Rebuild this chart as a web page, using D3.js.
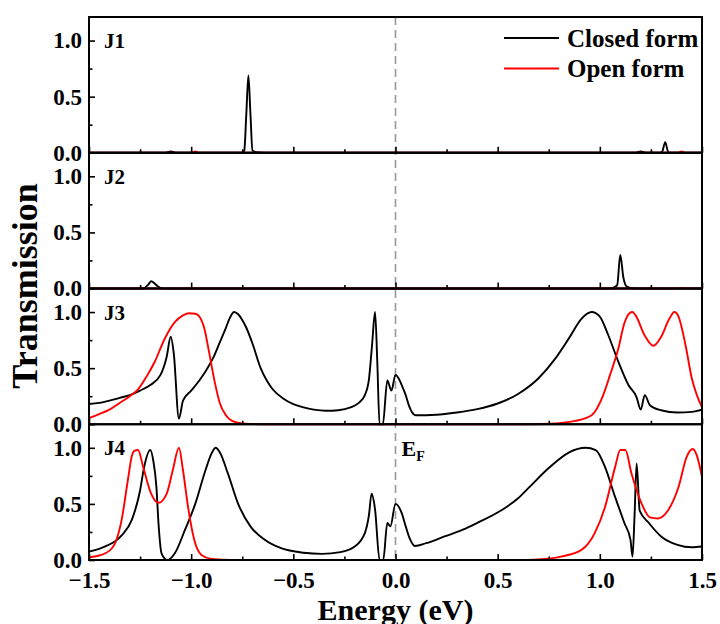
<!DOCTYPE html>
<html>
<head>
<meta charset="utf-8">
<script src="https://cdn.jsdelivr.net/npm/d3@7"></script>
<style>
  html, body { margin: 0; padding: 0; background: #fff; }
  svg text { font-family: "Liberation Serif", "Times New Roman", serif; font-weight: bold; fill: #000; }
</style>
</head>
<body>
<svg id="chart" width="720" height="624"></svg>
<script>
// Transmission spectra T(E) for junctions J1–J4, closed and open forms.
// Each series is a list of [energy (eV), transmission] samples.
const panelNames = ["J1", "J2", "J3", "J4"];
const seriesNames = ["Closed form", "Open form"];
const seriesColors = ["#000000", "#ff0000"];

const j1Closed = [[-1.5,0],[-1.13,0],[-1.10,0.012],[-1.07,0],[-0.76,0],[-0.745,0.005],[-0.74,0.02],[-0.73,0.35],[-0.72,0.69],[-0.71,0.35],[-0.70,0.02],[-0.68,0.005],[-0.6,0],[1.17,0],[1.20,0.012],[1.23,0],[1.295,0],[1.305,0.01],[1.32,0.095],[1.335,0.005],[1.36,0],[1.5,0]];
const j1Open = [[-1.5,0],[-1.0,0],[-0.98,0.012],[-0.96,0],[1.38,0],[1.40,0.012],[1.42,0],[1.5,0]];

const j2Closed = [[-1.5,0],[-1.235,0],[-1.21,0.035],[-1.195,0.065],[-1.17,0.03],[-1.15,0.005],[-1.12,0],[1.04,0],[1.07,0.01],[1.085,0.03],[1.10,0.30],[1.115,0.10],[1.13,0.02],[1.16,0.003],[1.2,0],[1.5,0]];
const j2Open = [[-1.5,0],[1.38,0],[1.40,0.006],[1.42,0],[1.5,0]];

const j3Closed = [[-1.50,0.18],[-1.45,0.19],[-1.40,0.21],[-1.35,0.235],[-1.30,0.26],[-1.25,0.30],[-1.20,0.35],[-1.15,0.44],[-1.12,0.60],[-1.10,0.78],[-1.085,0.63],[-1.06,0.05],[-1.04,0.21],[-1.00,0.30],[-0.96,0.39],[-0.93,0.47],[-0.89,0.60],[-0.86,0.73],[-0.83,0.86],[-0.81,0.95],[-0.79,1.0],[-0.77,0.98],[-0.75,0.93],[-0.73,0.86],[-0.70,0.72],[-0.66,0.50],[-0.63,0.39],[-0.60,0.31],[-0.55,0.23],[-0.50,0.18],[-0.45,0.15],[-0.40,0.13],[-0.34,0.12],[-0.28,0.125],[-0.22,0.15],[-0.18,0.19],[-0.15,0.26],[-0.13,0.40],[-0.115,0.70],[-0.10,1.0],[-0.089,0.55],[-0.078,0],[-0.062,0],[-0.04,0.39],[-0.02,0.30],[0.0,0.44],[0.015,0.41],[0.03,0.35],[0.05,0.26],[0.065,0.17],[0.08,0.11],[0.10,0.08],[0.20,0.085],[0.30,0.105],[0.40,0.135],[0.50,0.185],[0.60,0.27],[0.70,0.41],[0.78,0.58],[0.85,0.77],[0.91,0.94],[0.96,1.0],[1.00,0.96],[1.04,0.80],[1.09,0.56],[1.14,0.35],[1.18,0.24],[1.20,0.13],[1.22,0.26],[1.245,0.17],[1.30,0.125],[1.38,0.105],[1.45,0.11],[1.50,0.13]];
const j3Open = [[-1.50,0.055],[-1.45,0.09],[-1.40,0.13],[-1.35,0.19],[-1.30,0.25],[-1.26,0.31],[-1.22,0.42],[-1.18,0.55],[-1.13,0.76],[-1.08,0.91],[-1.04,0.97],[-1.01,0.99],[-0.98,0.985],[-0.96,0.96],[-0.935,0.85],[-0.91,0.62],[-0.885,0.38],[-0.86,0.19],[-0.83,0.08],[-0.80,0.03],[-0.75,0.008],[-0.65,0],[0.6,0],[0.75,0.005],[0.88,0.03],[0.96,0.08],[1.01,0.23],[1.05,0.44],[1.09,0.67],[1.12,0.90],[1.145,0.99],[1.16,1.0],[1.175,0.97],[1.22,0.79],[1.262,0.70],[1.30,0.78],[1.34,0.94],[1.365,1.0],[1.385,0.96],[1.42,0.70],[1.45,0.41],[1.475,0.26],[1.50,0.15]];

const j4Closed = [[-1.50,0.074],[-1.45,0.10],[-1.41,0.13],[-1.37,0.17],[-1.34,0.22],[-1.29,0.36],[-1.25,0.62],[-1.23,0.83],[-1.20,0.98],[-1.185,0.88],[-1.17,0.65],[-1.16,0.33],[-1.145,0.06],[-1.117,0],[-1.08,0.06],[-1.03,0.27],[-0.98,0.50],[-0.93,0.80],[-0.90,0.95],[-0.88,1.0],[-0.86,0.96],[-0.82,0.77],[-0.77,0.50],[-0.71,0.30],[-0.64,0.18],[-0.56,0.105],[-0.45,0.065],[-0.36,0.055],[-0.27,0.07],[-0.20,0.12],[-0.15,0.24],[-0.13,0.40],[-0.117,0.59],[-0.10,0.45],[-0.078,0],[-0.06,0],[-0.04,0.33],[-0.025,0.30],[0.0,0.50],[0.03,0.42],[0.05,0.30],[0.07,0.19],[0.095,0.125],[0.15,0.15],[0.24,0.21],[0.33,0.27],[0.40,0.33],[0.52,0.445],[0.60,0.55],[0.65,0.64],[0.75,0.82],[0.85,0.96],[0.93,1.0],[0.98,0.98],[1.025,0.83],[1.075,0.56],[1.12,0.33],[1.15,0.18],[1.16,0.03],[1.17,0.40],[1.18,0.86],[1.195,0.44],[1.24,0.33],[1.30,0.21],[1.38,0.135],[1.45,0.113],[1.50,0.12]];
const j4Open = [[-1.50,0.024],[-1.45,0.04],[-1.42,0.06],[-1.39,0.10],[-1.37,0.16],[-1.34,0.36],[-1.31,0.71],[-1.29,0.93],[-1.28,0.97],[-1.26,0.98],[-1.235,0.83],[-1.20,0.61],[-1.16,0.51],[-1.12,0.59],[-1.09,0.80],[-1.06,1.0],[-1.04,0.80],[-1.015,0.47],[-0.985,0.18],[-0.95,0.045],[-0.90,0.01],[-0.80,0],[0.6,0],[0.70,0.005],[0.81,0.03],[0.91,0.09],[0.975,0.24],[1.025,0.47],[1.075,0.83],[1.10,0.98],[1.125,0.98],[1.155,0.77],[1.205,0.50],[1.245,0.38],[1.285,0.37],[1.335,0.445],[1.385,0.65],[1.425,0.92],[1.455,0.99],[1.475,0.93],[1.50,0.74]];

const xMajorTicks = [-1.5, -1.0, -0.5, 0.0, 0.5, 1.0, 1.5];
const xMinorTicks = [-1.25, -0.75, -0.25, 0.25, 0.75, 1.25];
const yMajorTicks = [0.0, 0.5, 1.0];
const yMinorTicks = [0.25, 0.75];

const panels = [
  { name: panelNames[0], series: [j1Closed, j1Open] },
  { name: panelNames[1], series: [j2Closed, j2Open] },
  { name: panelNames[2], series: [j3Closed, j3Open] },
  { name: panelNames[3], series: [j4Closed, j4Open] }
];

// ---- layout ----
const svg = d3.select("#chart");
const plotLeft = 89, plotRight = 702, plotTop = 17, plotBottom = 560;
const panelH = (plotBottom - plotTop) / panels.length;

const x = d3.scaleLinear().domain([-1.5, 1.5]).range([plotLeft, plotRight]);
const fmt = d3.format(".1f");

// Fermi level marker
svg.append("line")
  .attr("x1", x(0)).attr("x2", x(0))
  .attr("y1", plotTop).attr("y2", plotBottom)
  .attr("stroke", "#999").attr("stroke-width", 1.6)
  .attr("stroke-dasharray", "8,5");

panels.forEach((p, i) => {
  const y0 = plotTop + i * panelH, y1 = plotTop + (i + 1) * panelH;
  const y = d3.scaleLinear().domain([0, 1.21]).range([y1, y0]);
  const g = svg.append("g");

  const line = d3.line()
    .x(d => x(d[0]))
    .y(d => y(d[1]))
    .curve(d3.curveMonotoneX);

  p.series.forEach((s, k) => {
    g.append("path")
      .datum(s)
      .attr("d", line)
      .attr("fill", "none")
      .attr("stroke", seriesColors[k])
      .attr("stroke-width", 1.9)
      .attr("stroke-linejoin", "round");
  });

  // left axis: major with labels, minor without
  const yMajor = g.append("g").attr("transform", `translate(${plotLeft},0)`)
    .call(d3.axisLeft(y).tickValues(yMajorTicks).tickSize(-6).tickSizeOuter(0).tickPadding(7).tickFormat(fmt));
  const yMinor = g.append("g").attr("transform", `translate(${plotLeft},0)`)
    .call(d3.axisLeft(y).tickValues(yMinorTicks).tickSize(-3.5).tickSizeOuter(0).tickFormat(""));

  // bottom axis of each panel, labels only on the last one
  const isLast = i === panels.length - 1;
  const xMajor = g.append("g").attr("transform", `translate(0,${y1})`)
    .call(d3.axisBottom(x).tickValues(xMajorTicks).tickSize(-6).tickSizeOuter(0).tickPadding(12)
      .tickFormat(isLast ? fmt : ""));
  const xMinor = g.append("g").attr("transform", `translate(0,${y1})`)
    .call(d3.axisBottom(x).tickValues(xMinorTicks).tickSize(-3.5).tickSizeOuter(0).tickFormat(""));

  [yMajor, yMinor, xMajor, xMinor].forEach(a => {
    a.select(".domain").remove();
    a.selectAll(".tick line").attr("stroke", "#000").attr("stroke-width", 1.6);
    a.selectAll(".tick text").attr("font-size", 23).attr("font-family", null);
  });

  // panel frame
  g.append("rect")
    .attr("x", plotLeft).attr("y", y0)
    .attr("width", plotRight - plotLeft).attr("height", panelH)
    .attr("fill", "none").attr("stroke", "#000").attr("stroke-width", 2);

  g.append("text")
    .attr("x", 104).attr("y", y0 + 31)
    .attr("font-size", 21)
    .text(p.name);
});

// Fermi level label
const ef = svg.append("text").attr("x", x(0) + 6).attr("y", 456).attr("font-size", 22);
ef.append("tspan").text("E");
ef.append("tspan").attr("font-size", 14).attr("dy", 5).text("F");

// legend
seriesNames.forEach((name, k) => {
  const ly = 38 + k * 30.5;
  svg.append("line")
    .attr("x1", 504).attr("x2", 559).attr("y1", ly).attr("y2", ly)
    .attr("stroke", seriesColors[k]).attr("stroke-width", 1.9);
  svg.append("text")
    .attr("x", 567).attr("y", ly + 8.5)
    .attr("font-size", 25)
    .text(name);
});

// axis titles
svg.append("text")
  .attr("transform", "translate(37,286) rotate(-90)")
  .attr("text-anchor", "middle")
  .attr("font-size", 36)
  .text("Transmission");

svg.append("text")
  .attr("x", x(0)).attr("y", 620)
  .attr("text-anchor", "middle")
  .attr("font-size", 30)
  .text("Energy (eV)");
</script>
</body>
</html>
